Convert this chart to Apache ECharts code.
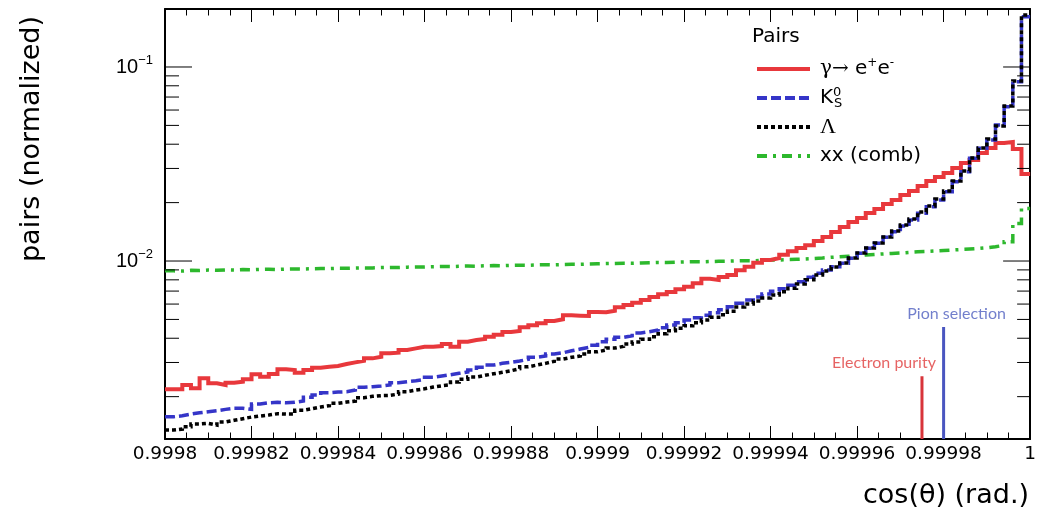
<!DOCTYPE html>
<html>
<head>
<meta charset="utf-8">
<script src="https://cdn.jsdelivr.net/npm/echarts@6/dist/echarts.min.js"></script>
<style>
  html, body { margin: 0; padding: 0; background: #ffffff; }
  #chart { width: 1039px; height: 515px; }
</style>
</head>
<body>
<div id="chart"></div>
<script>
// Binning of the opening-angle histograms: 100 bins over [0.9998, 1]
const binLow = 0.9998;
const binHigh = 1.0;
const binWidth = 0.000002;

// Normalised pair counts per bin
const gammaPairs = [
  0.002181, 0.002181, 0.002295, 0.002207, 0.002486, 0.002342, 0.002295, 0.002359, 0.002387, 0.002456,
  0.002606, 0.002533, 0.002615, 0.002766, 0.002743, 0.002656, 0.002743, 0.002818, 0.002852, 0.002876,
  0.002945, 0.003005, 0.003063, 0.003150, 0.003211, 0.003343, 0.003367, 0.003476, 0.003548, 0.003615,
  0.003615, 0.003646, 0.003734, 0.003615, 0.003837, 0.003916, 0.003962, 0.004072, 0.004170, 0.004305,
  0.004357, 0.004552, 0.004663, 0.004775, 0.004906, 0.005006, 0.005248, 0.005224, 0.005206, 0.005459,
  0.005440, 0.005544, 0.005771, 0.005932, 0.006098, 0.006295, 0.006522, 0.006735, 0.006921, 0.007146,
  0.007370, 0.007675, 0.008103, 0.007980, 0.008268, 0.008467, 0.008956, 0.009346, 0.009800, 0.01012,
  0.01036, 0.01078, 0.01122, 0.01167, 0.01205, 0.01268, 0.01329, 0.01411, 0.01497, 0.01589,
  0.01666, 0.01768, 0.01854, 0.01967, 0.02063, 0.02189, 0.02295, 0.02436, 0.02585, 0.02710,
  0.02842, 0.03016, 0.03200, 0.03316, 0.03604, 0.03824, 0.04058, 0.04107, 0.03778, 0.02809
];
const k0sPairs = [
  0.001575, 0.001594, 0.001627, 0.001652, 0.001672, 0.001692, 0.001720, 0.001741, 0.001741, 0.001720,
  0.001832, 0.001861, 0.001869, 0.001861, 0.001869, 0.001898, 0.001983, 0.002038, 0.002095, 0.002112,
  0.002120, 0.002163, 0.002234, 0.002250, 0.002269, 0.002295, 0.002359, 0.002387, 0.002415, 0.002456,
  0.002515, 0.002554, 0.002594, 0.002637, 0.002678, 0.002743, 0.002832, 0.002910, 0.002970, 0.003005,
  0.003052, 0.003114, 0.003189, 0.003238, 0.003316, 0.003367, 0.003447, 0.003518, 0.003591, 0.003678,
  0.003837, 0.003948, 0.004043, 0.004120, 0.004255, 0.004321, 0.004409, 0.004531, 0.004679, 0.004808,
  0.004965, 0.005102, 0.005248, 0.005414, 0.005610, 0.005812, 0.006053, 0.006295, 0.006522, 0.006758,
  0.006979, 0.007198, 0.007493, 0.007820, 0.008241, 0.008643, 0.008986, 0.009346, 0.009730, 0.01033,
  0.01096, 0.01163, 0.01234, 0.01325, 0.01416, 0.01515, 0.01627, 0.01762, 0.01905, 0.02063,
  0.02276, 0.02564, 0.02886, 0.03383, 0.03810, 0.04204, 0.05023, 0.06244, 0.08398, 0.1817
];
const lambdaPairs = [
  0.001346, 0.001361, 0.001399, 0.001445, 0.001457, 0.001427, 0.001480, 0.001510, 0.001539, 0.001570,
  0.001589, 0.001608, 0.001633, 0.001627, 0.001627, 0.001700, 0.001733, 0.001768, 0.001796, 0.001847,
  0.001876, 0.001898, 0.001974, 0.002007, 0.002025, 0.002030, 0.002063, 0.002120, 0.002163, 0.002196,
  0.002241, 0.002276, 0.002304, 0.002379, 0.002456, 0.002524, 0.002576, 0.002625, 0.002669, 0.002720,
  0.002785, 0.002852, 0.002910, 0.002970, 0.003041, 0.003125, 0.003189, 0.003238, 0.003316, 0.003407,
  0.003476, 0.003560, 0.003633, 0.003734, 0.003824, 0.003948, 0.004072, 0.004220, 0.004372, 0.004499,
  0.004640, 0.004808, 0.004965, 0.005127, 0.005286, 0.005505, 0.005793, 0.006003, 0.006220, 0.006446,
  0.006678, 0.006947, 0.007233, 0.007609, 0.008008, 0.008467, 0.008881, 0.009313, 0.009766, 0.01036,
  0.01100, 0.01167, 0.01238, 0.01329, 0.01428, 0.01533, 0.01646, 0.01789, 0.01921, 0.02087,
  0.02295, 0.02585, 0.02910, 0.03396, 0.03824, 0.04255, 0.04965, 0.06295, 0.08467, 0.1854
];
const combPairs = [
  0.00890, 0.00888, 0.00895, 0.00893, 0.00898, 0.00896, 0.00900, 0.00899, 0.00903, 0.00901,
  0.00905, 0.00907, 0.00904, 0.00909, 0.00911, 0.00910, 0.00913, 0.00915, 0.00914, 0.00918,
  0.00917, 0.00920, 0.00922, 0.00921, 0.00925, 0.00927, 0.00926, 0.00930, 0.00932, 0.00931,
  0.00935, 0.00937, 0.00936, 0.00940, 0.00942, 0.00941, 0.00945, 0.00947, 0.00946, 0.00950,
  0.00952, 0.00951, 0.00955, 0.00957, 0.00956, 0.00960, 0.00962, 0.00961, 0.00965, 0.00968,
  0.00970, 0.00972, 0.00975, 0.00974, 0.00978, 0.00980, 0.00983, 0.00982, 0.00986, 0.00989,
  0.00991, 0.00990, 0.00994, 0.00997, 0.00999, 0.01002, 0.01004, 0.01003, 0.01008, 0.01011,
  0.01013, 0.01017, 0.01020, 0.01024, 0.01030, 0.01036, 0.01045, 0.01052, 0.01058, 0.01066,
  0.01074, 0.01080, 0.01088, 0.01094, 0.01100, 0.01108, 0.01115, 0.01120, 0.01126, 0.01132,
  0.01139, 0.01146, 0.01152, 0.01160, 0.01170, 0.01185, 0.01205, 0.01257, 0.01563, 0.01867
];

// Axis settings
const xTickStep = 0.00002;
const yMin = 0.00121;
const yMax = 0.199;
const yTickValues = [0.002, 0.003, 0.004, 0.005, 0.006, 0.007, 0.008, 0.009, 0.01,
                     0.02, 0.03, 0.04, 0.05, 0.06, 0.07, 0.08, 0.09, 0.1];

// Selection cuts drawn as vertical markers
const cutNames = ['Electron purity', 'Pion selection'];
const cutPositions = [0.999975, 0.99998];
const cutHeights = [0.00255, 0.00457];

const seriesNames = ['γ→ e+e-', 'K0S', 'Λ', 'xx (comb)'];

const FONT = 'DejaVu Sans';
const COLORS = {
  gamma: '#e8383c',
  k0s: '#3535c8',
  lambda: '#000000',
  comb: '#2db82d',
  electronCut: '#d8343a',
  pionCut: '#4a56c0'
};
const DASHES = {
  gamma: 'solid',
  k0s: [10, 4],
  lambda: [4, 3],
  comb: [10, 6, 3, 6]
};

function binEdge(i) {
  return Math.round((binLow + i * binWidth) * 1e9) / 1e9;
}
// Step outline: one point per lower bin edge plus the closing upper edge
function histPoints(values) {
  const pts = values.map((v, i) => [binEdge(i), v]);
  pts.push([binEdge(values.length), values[values.length - 1]]);
  return pts;
}
function isDecade(v) {
  const e = Math.log10(v);
  return Math.abs(e - Math.round(e)) < 1e-6;
}

const legendRich = {
  'γ→ e+e-': '{sym|γ→} e{sup|+}e{sup|-}',
  'K0S': 'K{supk|0}{sub|S}',
  'Λ': '{serif|Λ}',
  'xx (comb)': 'xx (comb)'
};

function histSeries(name, values, color, width, dash, z) {
  return {
    type: 'line',
    name: name,
    step: 'end',
    data: histPoints(values),
    symbol: 'none',
    showSymbol: false,
    silent: true,
    z: z,
    itemStyle: { color: color },
    lineStyle: { color: color, width: width, type: dash, cap: 'butt', join: 'miter' }
  };
}

function cutSeries(idx, color) {
  return {
    type: 'line',
    name: cutNames[idx],
    data: [[cutPositions[idx], yMin], [cutPositions[idx], cutHeights[idx]]],
    symbol: 'none',
    silent: true,
    z: 4,
    lineStyle: { color: color, width: 3, cap: 'butt' }
  };
}

function legendItem(name, color, dash) {
  return { name: name, lineStyle: { color: color, width: 4, type: dash, cap: 'butt' } };
}

const chart = echarts.init(document.getElementById('chart'), null, { renderer: 'canvas' });

const option = {
  animation: false,
  backgroundColor: '#ffffff',
  textStyle: { fontFamily: FONT },
  grid: { left: 165, right: 8, top: 9, bottom: 76, containLabel: false },
  xAxis: [
    {
      type: 'value',
      min: binLow,
      max: binHigh,
      interval: xTickStep,
      position: 'bottom',
      axisLine: { show: true, onZero: false, lineStyle: { color: '#000', width: 2 } },
      axisTick: { show: true, inside: true, length: 13, lineStyle: { color: '#000', width: 1 } },
      minorTick: { show: true, splitNumber: 4, length: 6.5, lineStyle: { color: '#000', width: 1 } },
      splitLine: { show: false },
      axisLabel: {
        margin: 6,
        color: '#000',
        fontFamily: FONT,
        fontSize: 18.5,
        formatter: v => String(Number(v.toFixed(5)))
      }
    },
    {
      type: 'value',
      min: binLow,
      max: binHigh,
      interval: xTickStep,
      position: 'top',
      axisLine: { show: true, onZero: false, lineStyle: { color: '#000', width: 2 } },
      axisTick: { show: true, inside: true, length: 13, lineStyle: { color: '#000', width: 1 } },
      minorTick: { show: true, splitNumber: 4, length: 6.5, lineStyle: { color: '#000', width: 1 } },
      splitLine: { show: false },
      axisLabel: { show: false }
    }
  ],
  yAxis: [
    {
      type: 'log',
      logBase: 10,
      min: yMin,
      max: yMax,
      position: 'left',
      axisLine: { show: true, onZero: false, lineStyle: { color: '#000', width: 2 } },
      axisTick: { show: false },
      splitLine: { show: false },
      axisLabel: {
        margin: 12,
        color: '#000',
        fontFamily: 'Liberation Sans',
        fontSize: 20,
        showMinLabel: false,
        showMaxLabel: false,
        formatter: v => {
          if (!isDecade(v)) return '';
          return '{b|10}{s|−' + (-Math.round(Math.log10(v))) + '}';
        },
        rich: {
          b: { fontFamily: 'Liberation Sans', fontSize: 20, color: '#000', lineHeight: 26 },
          s: { fontFamily: 'Liberation Sans', fontSize: 13, color: '#000', lineHeight: 13, verticalAlign: 'top' }
        }
      }
    },
    {
      type: 'log',
      logBase: 10,
      min: yMin,
      max: yMax,
      position: 'right',
      axisLine: { show: true, onZero: false, lineStyle: { color: '#000', width: 2 } },
      axisTick: { show: false },
      splitLine: { show: false },
      axisLabel: { show: false }
    }
  ],
  legend: {
    data: [
      legendItem(seriesNames[0], COLORS.gamma, DASHES.gamma),
      legendItem(seriesNames[1], COLORS.k0s, DASHES.k0s),
      legendItem(seriesNames[2], COLORS.lambda, DASHES.lambda),
      legendItem(seriesNames[3], COLORS.comb, DASHES.comb)
    ],
    orient: 'vertical',
    left: 755,
    top: 57,
    padding: 0,
    itemGap: 5,
    itemWidth: 53,
    itemHeight: 14,
    selectedMode: false,
    itemStyle: { opacity: 0 },
    formatter: name => legendRich[name],
    textStyle: {
      color: '#000',
      fontFamily: FONT,
      fontSize: 20,
      lineHeight: 24,
      padding: [0, 0, 0, 5],
      rich: {
        sym: { fontFamily: 'DejaVu Serif', fontSize: 20, lineHeight: 24, color: '#000' },
        serif: { fontFamily: 'Liberation Serif', fontSize: 22, lineHeight: 24, color: '#000' },
        sup: { fontFamily: FONT, fontSize: 12, lineHeight: 12, verticalAlign: 'top', color: '#000' },
        supk: { fontFamily: FONT, fontSize: 13, lineHeight: 13, verticalAlign: 'top', width: 1, color: '#000' },
        sub: { fontFamily: FONT, fontSize: 13, lineHeight: 13, verticalAlign: 'bottom', color: '#000' }
      }
    }
  },
  graphic: [
    {
      type: 'text',
      left: 752,
      top: 27,
      style: { text: 'Pairs', font: '20px "DejaVu Sans"', fill: '#000' }
    },
    {
      type: 'text',
      x: 32,
      y: 139,
      rotation: Math.PI / 2,
      style: {
        text: 'pairs (normalized)',
        font: '27px "DejaVu Sans"',
        fill: '#000',
        align: 'center',
        verticalAlign: 'middle'
      }
    },
    {
      type: 'text',
      x: 1029,
      y: 496,
      style: {
        text: 'cos(θ) (rad.)',
        font: '27px "DejaVu Sans"',
        fill: '#000',
        align: 'right',
        verticalAlign: 'middle'
      }
    }
  ],
  series: [
    histSeries(seriesNames[3], combPairs, COLORS.comb, 3.5, DASHES.comb, 5),
    histSeries(seriesNames[0], gammaPairs, COLORS.gamma, 4, DASHES.gamma, 6),
    histSeries(seriesNames[1], k0sPairs, COLORS.k0s, 3.5, DASHES.k0s, 7),
    histSeries(seriesNames[2], lambdaPairs, COLORS.lambda, 3.5, DASHES.lambda, 8),
    cutSeries(0, COLORS.electronCut),
    cutSeries(1, COLORS.pionCut),
    {
      // Captions sitting above the two cut markers
      type: 'scatter',
      name: 'cutLabels',
      silent: true,
      symbolSize: 0,
      z: 4,
      data: [
        {
          value: [cutPositions[0], cutHeights[0]],
          label: { show: true, position: 'top', distance: 5, offset: [-38, 0],
                   formatter: cutNames[0], color: '#e03c3c', fontFamily: 'Lato', fontSize: 16 }
        },
        {
          value: [cutPositions[1], cutHeights[1]],
          label: { show: true, position: 'top', distance: 5, offset: [13, 0],
                   formatter: cutNames[1], color: '#4f5fbf', fontFamily: 'Lato', fontSize: 16 }
        }
      ]
    },
    {
      // Logarithmic tick marks on the left and right frame
      type: 'custom',
      name: 'yTicks',
      silent: true,
      clip: false,
      z: 10,
      data: yTickValues.map(v => [binLow, v]),
      renderItem: (params, api) => {
        const v = api.value(1);
        const pL = api.coord([binLow, v]);
        const pR = api.coord([binHigh, v]);
        const major = isDecade(v);
        const lenL = major ? 27 : 14;
        const lenR = major ? 27 : 13;
        return {
          type: 'group',
          children: [
            { type: 'line', shape: { x1: pL[0], y1: pL[1], x2: pL[0] + lenL, y2: pL[1] },
              style: { stroke: '#000', lineWidth: 1 } },
            { type: 'line', shape: { x1: pR[0] - lenR, y1: pR[1], x2: pR[0], y2: pR[1] },
              style: { stroke: '#000', lineWidth: 1 } }
          ]
        };
      }
    }
  ]
};

chart.setOption(option);
</script>
</body>
</html>
